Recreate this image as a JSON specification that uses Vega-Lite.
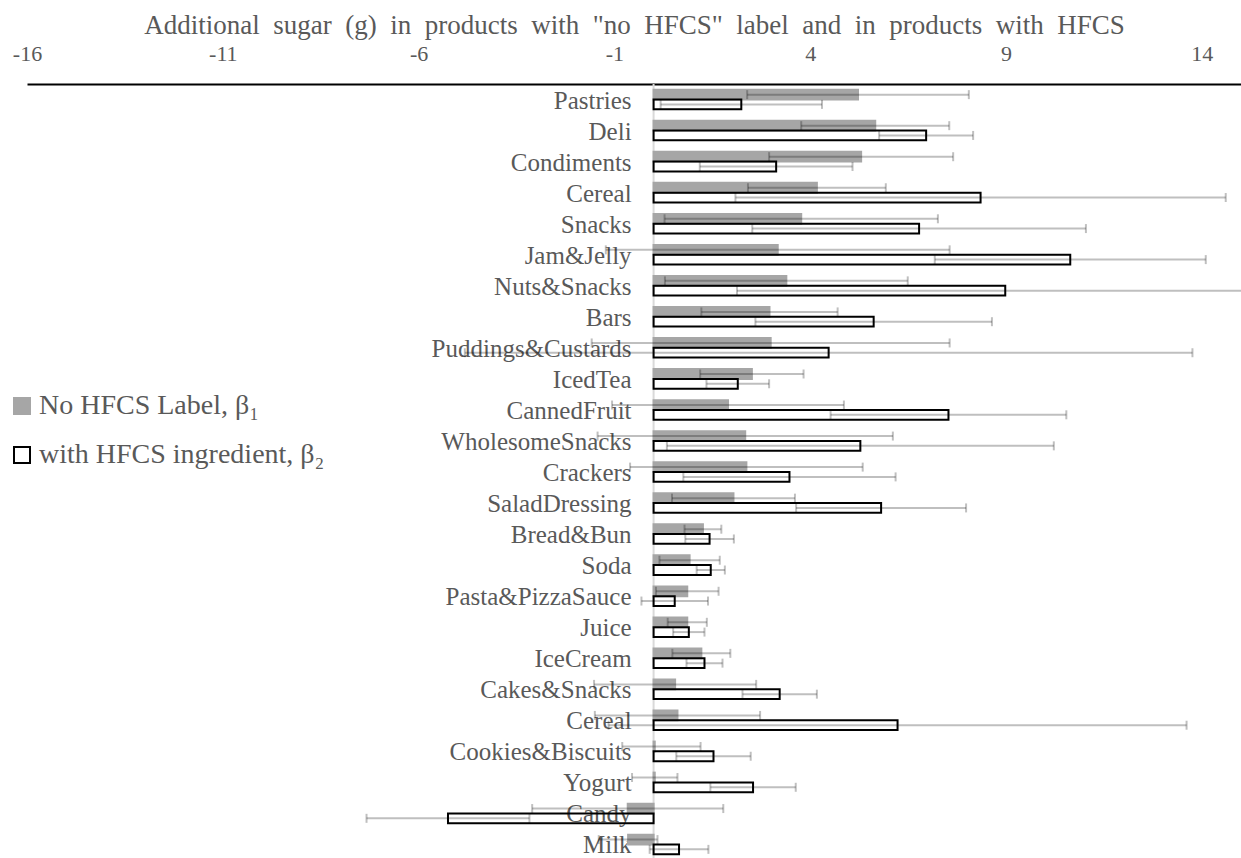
{
  "$schema": "https://vega.github.io/schema/vega-lite/v6.json",
  "width": 1214,
  "height": 776,
  "autosize": {"type": "none"},
  "padding": {"left": 27, "top": 84, "right": 0, "bottom": 0},
  "background": "white",
  "config": {
    "view": {"stroke": null},
    "font": "Liberation Serif",
    "axis": {
      "labelFont": "Liberation Serif",
      "titleFont": "Liberation Serif",
      "labelColor": "#595959",
      "titleColor": "#595959",
      "titleFontWeight": "normal"
    },
    "legend": {
      "labelFont": "Liberation Serif",
      "labelColor": "#595959",
      "labelLimit": 500
    }
  },
  "datasets": {
    "sugar": [
      {"row": 1, "label": "Pastries", "series": "No HFCS Label, β₁", "value": 5.22, "lo": 2.39, "hi": 8.05},
      {"row": 1, "label": "Pastries", "series": "with HFCS ingredient, β₂", "value": 2.24, "lo": 0.18, "hi": 4.30},
      {"row": 2, "label": "Deli", "series": "No HFCS Label, β₁", "value": 5.66, "lo": 3.77, "hi": 7.55},
      {"row": 2, "label": "Deli", "series": "with HFCS ingredient, β₂", "value": 6.96, "lo": 5.76, "hi": 8.16},
      {"row": 3, "label": "Condiments", "series": "No HFCS Label, β₁", "value": 5.30, "lo": 2.95, "hi": 7.65},
      {"row": 3, "label": "Condiments", "series": "with HFCS ingredient, β₂", "value": 3.13, "lo": 1.18, "hi": 5.08},
      {"row": 4, "label": "Cereal", "series": "No HFCS Label, β₁", "value": 4.17, "lo": 2.41, "hi": 5.93},
      {"row": 4, "label": "Cereal", "series": "with HFCS ingredient, β₂", "value": 8.35, "lo": 2.09, "hi": 14.61},
      {"row": 5, "label": "Snacks", "series": "No HFCS Label, β₁", "value": 3.77, "lo": 0.28, "hi": 7.26},
      {"row": 5, "label": "Snacks", "series": "with HFCS ingredient, β₂", "value": 6.78, "lo": 2.52, "hi": 11.04},
      {"row": 6, "label": "Jam&Jelly", "series": "No HFCS Label, β₁", "value": 3.17, "lo": -1.22, "hi": 7.56},
      {"row": 6, "label": "Jam&Jelly", "series": "with HFCS ingredient, β₂", "value": 10.64, "lo": 7.18, "hi": 14.10},
      {"row": 7, "label": "Nuts&Snacks", "series": "No HFCS Label, β₁", "value": 3.39, "lo": 0.29, "hi": 6.49},
      {"row": 7, "label": "Nuts&Snacks", "series": "with HFCS ingredient, β₂", "value": 8.98, "lo": 2.13, "hi": 15.83},
      {"row": 8, "label": "Bars", "series": "No HFCS Label, β₁", "value": 2.96, "lo": 1.22, "hi": 4.70},
      {"row": 8, "label": "Bars", "series": "with HFCS ingredient, β₂", "value": 5.62, "lo": 2.60, "hi": 8.64},
      {"row": 9, "label": "Puddings&Custards", "series": "No HFCS Label, β₁", "value": 2.99, "lo": -1.58, "hi": 7.56},
      {"row": 9, "label": "Puddings&Custards", "series": "with HFCS ingredient, β₂", "value": 4.47, "lo": -4.82, "hi": 13.76},
      {"row": 10, "label": "IcedTea", "series": "No HFCS Label, β₁", "value": 2.51, "lo": 1.19, "hi": 3.83},
      {"row": 10, "label": "IcedTea", "series": "with HFCS ingredient, β₂", "value": 2.15, "lo": 1.35, "hi": 2.95},
      {"row": 11, "label": "CannedFruit", "series": "No HFCS Label, β₁", "value": 1.90, "lo": -1.06, "hi": 4.86},
      {"row": 11, "label": "CannedFruit", "series": "with HFCS ingredient, β₂", "value": 7.53, "lo": 4.52, "hi": 10.54},
      {"row": 12, "label": "WholesomeSnacks", "series": "No HFCS Label, β₁", "value": 2.34, "lo": -1.43, "hi": 6.11},
      {"row": 12, "label": "WholesomeSnacks", "series": "with HFCS ingredient, β₂", "value": 5.28, "lo": 0.34, "hi": 10.22},
      {"row": 13, "label": "Crackers", "series": "No HFCS Label, β₁", "value": 2.37, "lo": -0.60, "hi": 5.34},
      {"row": 13, "label": "Crackers", "series": "with HFCS ingredient, β₂", "value": 3.47, "lo": 0.76, "hi": 6.18},
      {"row": 14, "label": "SaladDressing", "series": "No HFCS Label, β₁", "value": 2.04, "lo": 0.47, "hi": 3.61},
      {"row": 14, "label": "SaladDressing", "series": "with HFCS ingredient, β₂", "value": 5.81, "lo": 3.64, "hi": 7.98},
      {"row": 15, "label": "Bread&Bun", "series": "No HFCS Label, β₁", "value": 1.26, "lo": 0.79, "hi": 1.73},
      {"row": 15, "label": "Bread&Bun", "series": "with HFCS ingredient, β₂", "value": 1.43, "lo": 0.81, "hi": 2.05},
      {"row": 16, "label": "Soda", "series": "No HFCS Label, β₁", "value": 0.92, "lo": 0.15, "hi": 1.69},
      {"row": 16, "label": "Soda", "series": "with HFCS ingredient, β₂", "value": 1.46, "lo": 1.10, "hi": 1.82},
      {"row": 17, "label": "Pasta&PizzaSauce", "series": "No HFCS Label, β₁", "value": 0.86, "lo": 0.06, "hi": 1.66},
      {"row": 17, "label": "Pasta&PizzaSauce", "series": "with HFCS ingredient, β₂", "value": 0.54, "lo": -0.31, "hi": 1.39},
      {"row": 18, "label": "Juice", "series": "No HFCS Label, β₁", "value": 0.86, "lo": 0.36, "hi": 1.36},
      {"row": 18, "label": "Juice", "series": "with HFCS ingredient, β₂", "value": 0.90, "lo": 0.50, "hi": 1.30},
      {"row": 19, "label": "IceCream", "series": "No HFCS Label, β₁", "value": 1.22, "lo": 0.48, "hi": 1.96},
      {"row": 19, "label": "IceCream", "series": "with HFCS ingredient, β₂", "value": 1.30, "lo": 0.84, "hi": 1.76},
      {"row": 20, "label": "Cakes&Snacks", "series": "No HFCS Label, β₁", "value": 0.55, "lo": -1.52, "hi": 2.62},
      {"row": 20, "label": "Cakes&Snacks", "series": "with HFCS ingredient, β₂", "value": 3.22, "lo": 2.27, "hi": 4.17},
      {"row": 21, "label": "Cereal", "series": "No HFCS Label, β₁", "value": 0.61, "lo": -1.50, "hi": 2.72},
      {"row": 21, "label": "Cereal", "series": "with HFCS ingredient, β₂", "value": 6.23, "lo": -1.15, "hi": 13.61},
      {"row": 22, "label": "Cookies&Biscuits", "series": "No HFCS Label, β₁", "value": 0.03, "lo": -0.80, "hi": 1.20},
      {"row": 22, "label": "Cookies&Biscuits", "series": "with HFCS ingredient, β₂", "value": 1.53, "lo": 0.58, "hi": 2.48},
      {"row": 23, "label": "Yogurt", "series": "No HFCS Label, β₁", "value": 0.03, "lo": -0.55, "hi": 0.61},
      {"row": 23, "label": "Yogurt", "series": "with HFCS ingredient, β₂", "value": 2.54, "lo": 1.45, "hi": 3.63},
      {"row": 24, "label": "Candy", "series": "No HFCS Label, β₁", "value": -0.66, "lo": -3.10, "hi": 1.78},
      {"row": 24, "label": "Candy", "series": "with HFCS ingredient, β₂", "value": -5.25, "lo": -7.33, "hi": -3.17},
      {"row": 25, "label": "Milk", "series": "No HFCS Label, β₁", "value": -0.65, "lo": -1.40, "hi": 0.10},
      {"row": 25, "label": "Milk", "series": "with HFCS ingredient, β₂", "value": 0.65, "lo": -0.10, "hi": 1.40}
    ]
  },
  "data": {"name": "sugar"},
  "encoding": {
    "y": {
      "field": "row",
      "type": "ordinal",
      "sort": "ascending",
      "axis": null,
      "scale": {"paddingInner": 0.37, "paddingOuter": 0.185}
    }
  },
  "layer": [
    {
      "data": {"values": [{"zero": 0}]},
      "mark": {"type": "rule", "color": "#d9d9d9", "strokeWidth": 2},
      "encoding": {
        "x": {
          "field": "zero",
          "type": "quantitative",
          "scale": {"domain": [-16, 15], "nice": false, "zero": false},
          "axis": {
            "orient": "top",
            "values": [-16, -11, -6, -1, 4, 9, 14],
            "labelExpr": "'' + datum.value",
            "grid": false,
            "ticks": false,
            "domainColor": "#000000",
            "domainWidth": 2,
            "labelFont": "Liberation Serif",
            "labelFontSize": 22,
            "labelColor": "#595959",
            "labelPadding": 19,
            "labelFlush": false,
            "title": "Additional\u00a0 sugar\u00a0 (g)\u00a0 in\u00a0 products\u00a0 with\u00a0 \"no\u00a0 HFCS\"\u00a0 label\u00a0 and\u00a0 in\u00a0 products\u00a0 with\u00a0 HFCS",
            "titleFont": "Liberation Serif",
            "titleFontSize": 27,
            "titleFontWeight": "normal",
            "titleColor": "#595959",
            "titlePadding": 3
          }
        },
        "y": {"value": 0},
        "y2": {"value": 776}
      }
    },
    {
      "transform": [{"filter": "datum.series === 'No HFCS Label, β₁'"}],
      "mark": {
        "type": "text",
        "align": "right",
        "baseline": "middle",
        "dx": -22,
        "dy": 1,
        "font": "Liberation Serif",
        "fontSize": 25,
        "color": "#595959"
      },
      "encoding": {
        "x": {"datum": 0},
        "text": {"field": "label"}
      }
    },
    {
      "mark": {"type": "bar", "strokeWidth": 2},
      "encoding": {
        "x": {"field": "value", "type": "quantitative"},
        "x2": {"datum": 0},
        "yOffset": {"field": "series", "type": "nominal"},
        "fill": {
          "field": "series",
          "type": "nominal",
          "scale": {"range": ["#a6a6a6", "transparent"]},
          "legend": {
            "title": null,
            "orient": "none",
            "legendX": -19,
            "legendY": 308,
            "symbolType": "square",
            "symbolSize": 256,
            "symbolStrokeWidth": 2,
            "labelFont": "Liberation Serif",
            "labelFontSize": 28,
            "labelColor": "#595959",
            "labelLimit": 500,
            "labelOffset": 3,
            "rowPadding": 21
          }
        },
        "stroke": {
          "field": "series",
          "type": "nominal",
          "scale": {"range": ["#a6a6a6", "#000000"]},
          "legend": {
            "title": null,
            "orient": "none",
            "legendX": -19,
            "legendY": 308,
            "symbolType": "square",
            "symbolSize": 256,
            "symbolStrokeWidth": 2,
            "labelFont": "Liberation Serif",
            "labelFontSize": 28,
            "labelColor": "#595959",
            "labelLimit": 500,
            "labelOffset": 3,
            "rowPadding": 21
          }
        }
      }
    },
    {
      "mark": {"type": "rule", "color": "#000000", "opacity": 0.25, "strokeWidth": 2, "clip": true},
      "encoding": {
        "x": {"field": "lo", "type": "quantitative"},
        "x2": {"field": "hi"},
        "yOffset": {"field": "series", "type": "nominal"}
      }
    },
    {
      "mark": {"type": "tick", "color": "#000000", "opacity": 0.25, "thickness": 2, "size": 9, "orient": "vertical", "clip": true},
      "encoding": {
        "x": {"field": "lo", "type": "quantitative"},
        "yOffset": {"field": "series", "type": "nominal"}
      }
    },
    {
      "mark": {"type": "tick", "color": "#000000", "opacity": 0.25, "thickness": 2, "size": 9, "orient": "vertical", "clip": true},
      "encoding": {
        "x": {"field": "hi", "type": "quantitative"},
        "yOffset": {"field": "series", "type": "nominal"}
      }
    }
  ]
}
